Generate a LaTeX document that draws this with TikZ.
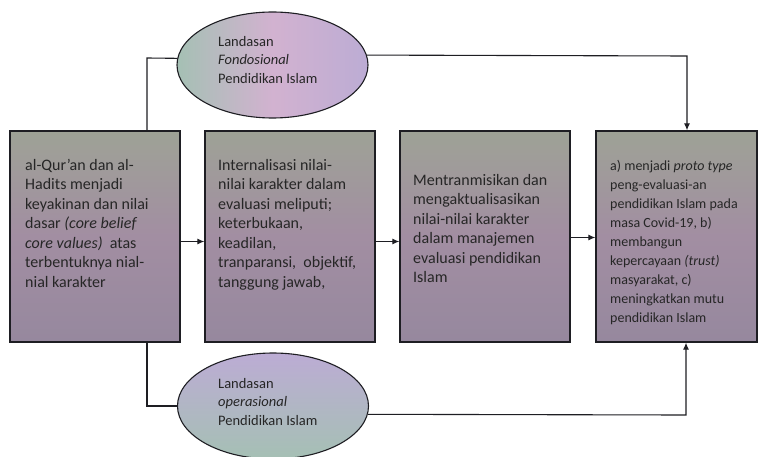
\documentclass[tikz,border=0pt]{standalone}
\usepackage{fontspec}
\setmainfont{Carlito}
\usetikzlibrary{shapes.geometric,arrows.meta}
\definecolor{bxtop}{RGB}{158,162,150}
\definecolor{bxmid}{RGB}{162,142,162}
\definecolor{bxbot}{RGB}{150,136,158}
\definecolor{elA}{RGB}{165,192,180}
\definecolor{elB}{RGB}{210,178,208}
\definecolor{elC}{RGB}{188,172,212}
\definecolor{ln}{RGB}{30,30,35}
\begin{document}
\begin{tikzpicture}[x=1pt,y=-1pt,
  stagebox/.style={draw=ln,line width=1.3pt,minimum width=170pt,minimum height=211pt,inner sep=0pt,
    top color=bxtop,bottom color=bxbot,middle color=bxmid},
  oval/.style={ellipse,draw=ln,line width=1.1pt,minimum width=191pt,minimum height=106pt,inner sep=0pt},
  bodytxt/.style={anchor=north west,inner sep=0pt,align=left,text=black!85,font=\fontsize{16}{19.5}\selectfont},
  smalltxt/.style={anchor=north west,inner sep=0pt,align=left,text=black!85,font=\fontsize{14}{19}\selectfont},
  oveltxt/.style={anchor=north west,inner sep=0pt,align=left,text=black!85,font=\fontsize{14.5}{18.5}\selectfont},
  conn/.style={draw=ln,line width=1.1pt},
  arr/.style={conn,-{Latex[length=7pt,width=6pt]}}]
\useasboundingbox (0,0) rectangle (759,457);
\fill[white] (0,0) rectangle (759,457);
% boxes
\node[stagebox] (b1) at (95,236.5) {};
\node[stagebox] (b2) at (290,236.5) {};
\node[stagebox] (b3) at (485,236.5) {};
\node[stagebox,minimum width=161pt] (b4) at (676.5,236.5) {};
% ellipses
\node[oval,left color=elA,right color=elC,middle color=elB] (e1) at (272.5,65) {};
\node[oval,top color=elC,middle color=elB,bottom color=elA] (e2) at (273,406) {};
% texts
\node[bodytxt] (t1) at (25,159) {al-Qur'an dan al-\\Hadits menjadi\\keyakinan dan nilai\\dasar \textit{(core belief}\\\textit{core values)}~ atas\\terbentuknya nial-\\nial karakter};
\node[bodytxt] (t2) at (218,159) {Internalisasi nilai-\\nilai karakter dalam\\evaluasi meliputi;\\keterbukaan,\\keadilan,\\tranparansi,~ objektif,\\tanggung jawab,};
\node[bodytxt] (t3) at (413,174) {Mentranmisikan dan\\mengaktualisasikan\\nilai-nilai karakter\\dalam manajemen\\evaluasi pendidikan\\Islam};
\node[smalltxt] (t4) at (610,160) {a) menjadi \textit{proto type}\\peng-evaluasi-an\\pendidikan Islam pada\\masa Covid-19, b)\\membangun\\kepercayaan \textit{(trust)}\\masyarakat, c)\\meningkatkan mutu\\pendidikan Islam};
\node[oveltxt] (t5) at (218,36) {Landasan\\\textit{Fondosional}\\Pendidikan Islam};
\node[oveltxt] (t6) at (218,378) {Landasan\\\textit{operasional}\\Pendidikan Islam};
% connectors
\coordinate (tl) at (147,58);
\coordinate (tr) at (687,56);
\coordinate (bl) at (147,406);
\coordinate (br) at (686,415);
\draw[conn] (e1.176) -- (tl) -- (tl |- b1.north);
\draw[arr] (e1.6) -- (tr) -- (tr |- b4.north);
\draw[conn] (e2.west) -- (bl) -- (bl |- b1.south);
\draw[arr] (e2.-5.5) -- (br) -- (br |- b4.south);
\draw[arr] ([yshift=-5pt]b1.east) -- ([yshift=-5pt]b2.west);
\draw[arr] ([yshift=-5pt]b2.east) -- ([yshift=-5pt]b3.west);
\draw[arr] ([yshift=-1pt]b3.east) -- ([yshift=-1pt]b4.west);
\end{tikzpicture}
\end{document}
